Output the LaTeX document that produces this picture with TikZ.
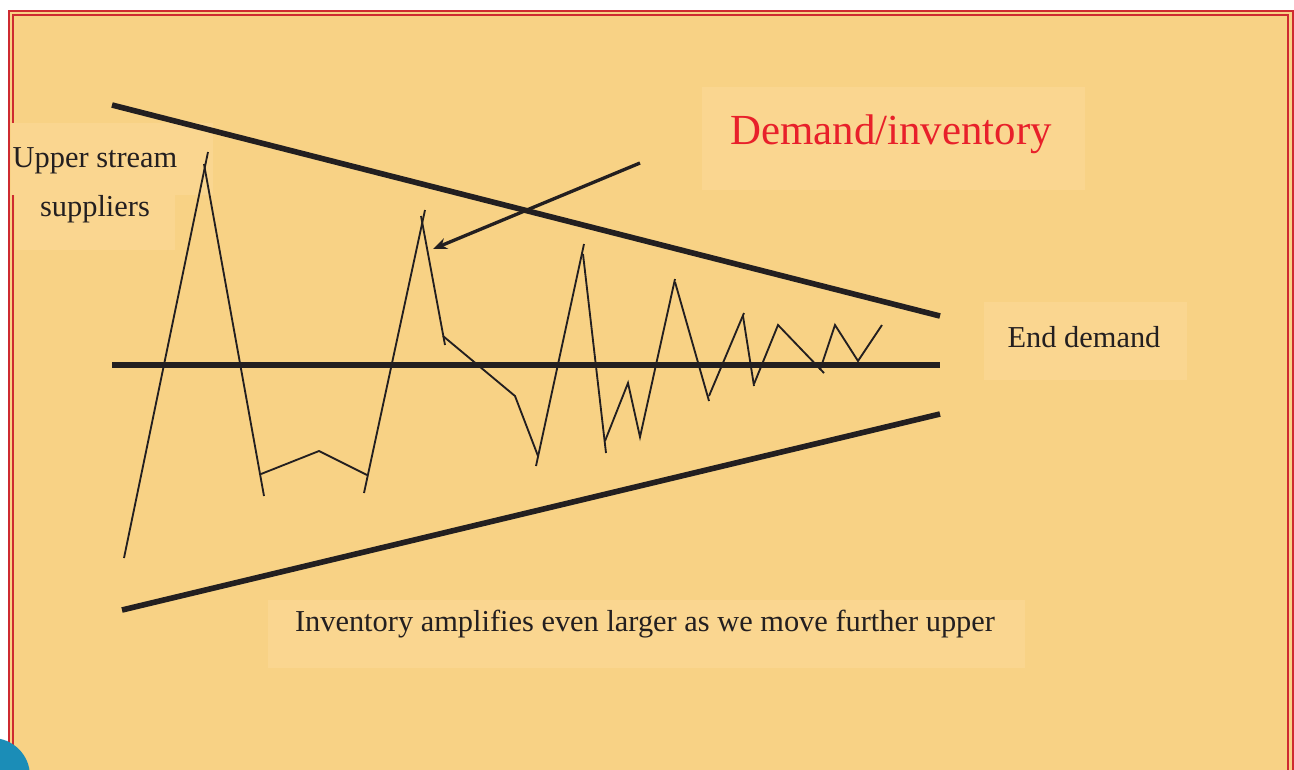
\documentclass[tikz,border=0pt]{standalone}
\usepackage{fontspec}
\setmainfont{Liberation Serif}
\usetikzlibrary{arrows.meta}
\definecolor{bgfill}{HTML}{F8D285}
\definecolor{boxfill}{HTML}{FAD690}
\definecolor{framered}{HTML}{CE2B30}
\definecolor{ink}{HTML}{231F20}
\definecolor{titlered}{HTML}{E8202A}
\definecolor{dotblue}{HTML}{1B8DB7}
\tikzset{
  thickline/.style={ink, line width=3.2pt, line cap=butt},
  zig/.style={ink, line width=1.05pt, line join=miter},
  pointer/.style={ink, line width=1.9pt, -{Stealth[length=8pt,width=6.5pt]}},
  lbl/.style={font=\fontsize{17.3}{28}\selectfont, text=ink, align=center, inner sep=0pt},
}
\begin{document}
\begin{tikzpicture}[x=0.02cm, y=-0.02cm]
\useasboundingbox (0,0) rectangle (1294,769);
\clip (0,0) rectangle (1294,769);
% page frame
\fill[white] (0,0) rectangle (1294,769);
\fill[bgfill] (8,10) rectangle (1300,800);
\draw[framered, line width=1.3pt] (9.2,10.8) rectangle (1292.8,800);
\draw[framered, line width=1.2pt] (12.6,15) rectangle (1288.4,800);
% lighter text boxes
\fill[boxfill] (11,123) rectangle (213,195);
\fill[boxfill] (15,195) rectangle (175,250);
\fill[boxfill] (702,87) rectangle (1085,190);
\fill[boxfill] (984,302) rectangle (1187,380);
\fill[boxfill] (268,600) rectangle (1025,668);
% blue dot
\fill[dotblue] (-8,776) circle (38);
% bounding lines
\coordinate (ua) at (112,105); \coordinate (ub) at (940,316);
\coordinate (ma) at (112,365); \coordinate (mb) at (940,365);
\coordinate (la) at (122,610); \coordinate (lb) at (940,414);
\draw[thickline] (ua) -- (ub);
\draw[thickline] (ma) -- (mb);
\draw[thickline] (la) -- (lb);
% zigzag
\draw[zig] (124,558) -- (208,152);
\draw[zig] (204,164) -- (264,496);
\draw[zig] (261,474) -- (319,451) -- (367,475);
\draw[zig] (364,493) -- (425,210);
\draw[zig] (421,216) -- (445,345);
\draw[zig] (443,336) -- (515,396) -- (538,456);
\draw[zig] (536,466) -- (584,244);
\draw[zig] (583,254) -- (606,453);
\draw[zig] (605,441) -- (628,383) -- (640,437) -- (675,279);
\draw[zig] (675,282) -- (709,401);
\draw[zig] (709,396) -- (744,313);
\draw[zig] (743,316) -- (754,386);
\draw[zig] (754,384) -- (778,325) -- (824,373);
\draw[zig] (820,370) -- (835,325) -- (858,361) -- (882,325);
% pointer arrow
\coordinate (ps) at (640,163);
\coordinate (pe) at (433,249);
\draw[pointer] (ps) -- (pe);
% labels
\node[lbl] (up) at (95,185) {Upper stream\\suppliers};
\node[lbl, text=titlered, font=\fontsize{24.4}{28}\selectfont] (di) at (891,134) {Demand/inventory};
\node[lbl] (ed) at (1084,337) {End demand};
\node[lbl] (inv) at (645,624) {Inventory amplifies even larger as we move further upper};
\end{tikzpicture}
\end{document}
